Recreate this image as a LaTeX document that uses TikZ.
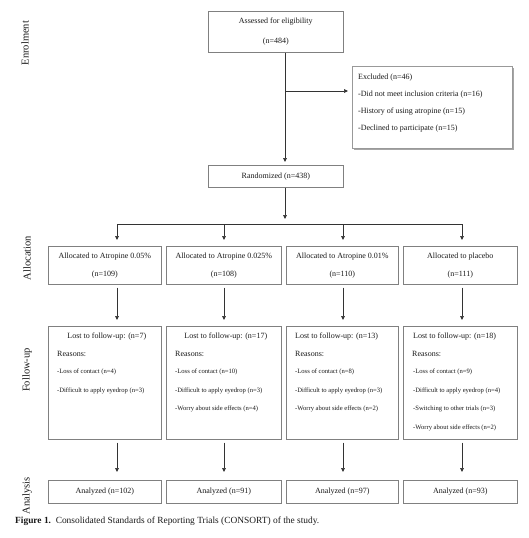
\documentclass[tikz,border=0pt]{standalone}
\usepackage{fontspec}
\setmainfont{Liberation Serif}
\usetikzlibrary{arrows.meta,positioning,calc,shadows}
\definecolor{ln}{HTML}{808080}
\definecolor{ink}{HTML}{1A1A1A}
\tikzset{
  box/.style={draw=ln,line width=0.6pt,fill=white,anchor=north west,inner sep=0pt,align=center,font=\fontsize{8}{9.6}\selectfont,text=ink},
  ebox/.style={box,draw=ln!80,drop shadow={shadow xshift=1.3pt,shadow yshift=-1.3pt,fill=black!35,opacity=1}},
  txt/.style={anchor=west,inner sep=0pt,font=\fontsize{8}{9.6}\selectfont,text=ink},
  rtxt/.style={txt,font=\fontsize{6.6}{8}\selectfont},
  lab/.style={rotate=90,inner sep=0pt,font=\fontsize{10.5}{12}\selectfont,text=ink},
  ar/.style={-{Triangle[length=4pt,width=3.8pt]},line width=0.6pt,draw=black!80},
}

\begin{document}
\begin{tikzpicture}[x=1pt,y=-1pt]
\fill[white] (0,0) rectangle (529,538);
\useasboundingbox (0,0) rectangle (529,538);

% phase labels
\node[lab] (lenr) at (25,43) {Enrolment};
\node[lab] (lall) at (27,258) {Allocation};
\node[lab] (lfol) at (27,370) {Follow-up};
\node[lab] (lana) at (27,496) {Analysis};

% enrolment
\node[box,minimum width=135pt,minimum height=41pt] (assess) at (208,11) {Assessed for eligibility\\[10.4pt](n=484)};
\node[ebox,minimum width=160pt,minimum height=82pt] (excl) at (352,66) {};
\node[txt,anchor=north west,align=left,font=\fontsize{8}{17}\selectfont] (extxt) at ($(excl.north west)+(6,7.5)$)
  {Excluded (n=46)\\-Did not meet inclusion criteria (n=16)\\-History of using atropine (n=15)\\-Declined to participate (n=15)};
\node[box,minimum width=135pt,minimum height=22pt] (rand) at (208,165) {Randomized (n=438)};

\coordinate (sp) at (285,0);
\coordinate (br) at (285,91);
\coordinate (bar) at (285,224);
\coordinate (k1) at (117,0);
\coordinate (k2) at (224,0);
\coordinate (k3) at (343,0);
\coordinate (k4) at (462,0);

% allocation
\node[box,minimum width=113pt,minimum height=38pt] (a1) at (48,246) {Allocated to Atropine 0.05\%\\[8.4pt](n=109)};
\node[box,minimum width=115pt,minimum height=38pt] (a2) at (166,246) {Allocated to Atropine 0.025\%\\[8.4pt](n=108)};
\node[box,minimum width=112pt,minimum height=38pt] (a3) at (286,246) {Allocated to Atropine 0.01\%\\[8.4pt](n=110)};
\node[box,minimum width=114pt,minimum height=38pt] (a4) at (403,246) {Allocated to placebo\\[8.4pt](n=111)};

% follow-up
\node[box,minimum width=113pt,minimum height=113pt] (f1) at (48,326) {};
\node[box,minimum width=115pt,minimum height=113pt] (f2) at (166,326) {};
\node[box,minimum width=112pt,minimum height=113pt] (f3) at (286,326) {};
\node[box,minimum width=114pt,minimum height=113pt] (f4) at (403,326) {};

\node[txt,anchor=center] (f1h) at ($(f1.north)+(2,11)$) {Lost to follow-up: (n=7)};
\node[txt,anchor=center] (f2h) at ($(f2.north)+(2,11)$) {Lost to follow-up: (n=17)};
\node[txt] (f3h) at ($(f3.north west)+(9,11)$) {Lost to follow-up: (n=13)};
\node[txt] (f4h) at ($(f4.north west)+(10,11)$) {Lost to follow-up: (n=18)};

\foreach \b in {f1,f2,f3,f4}
  \node[txt] (\b rs) at ($(\b.north west)+(9,28)$) {Reasons:};

\foreach \t [count=\i] in {-Loss of contact (n=4),-Difficult to apply eyedrop (n=3)}
  \node[rtxt] (f1r\i) at ($(f1.north west)+(9,27.5+18.5*\i)$) {\t};
\foreach \t [count=\i] in {-Loss of contact (n=10),-Difficult to apply eyedrop (n=3),-Worry about side effects (n=4)}
  \node[rtxt] (f2r\i) at ($(f2.north west)+(9,27.5+18.5*\i)$) {\t};
\foreach \t [count=\i] in {-Loss of contact (n=8),-Difficult to apply eyedrop (n=3),-Worry about side effects (n=2)}
  \node[rtxt] (f3r\i) at ($(f3.north west)+(9,27.5+18.5*\i)$) {\t};
\foreach \t [count=\i] in {-Loss of contact (n=9),-Difficult to apply eyedrop (n=4),-Switching to other trials (n=3),-Worry about side effects (n=2)}
  \node[rtxt] (f4r\i) at ($(f4.north west)+(10,27.5+18.5*\i)$) {\t};

% analysis
\node[box,minimum width=113pt,minimum height=23pt] (n1) at (48,480) {Analyzed (n=102)};
\node[box,minimum width=115pt,minimum height=23pt] (n2) at (166,480) {Analyzed (n=91)};
\node[box,minimum width=112pt,minimum height=23pt] (n3) at (286,480) {Analyzed (n=97)};
\node[box,minimum width=114pt,minimum height=23pt] (n4) at (403,480) {Analyzed (n=93)};

% connectors
\draw[ar,shorten >=3pt] (assess.south -| sp) -- (rand.north -| sp);
\draw[ar,shorten >=4pt] (br) -- (excl.west |- br);
\draw[ar,shorten >=5pt] (rand.south -| sp) -- (bar);
\draw[line width=0.6pt,draw=black!80] (k1 |- bar) -- (k4 |- bar);
\foreach \k/\a/\f/\n in {k1/a1/f1/n1,k2/a2/f2/n2,k3/a3/f3/n3,k4/a4/f4/n4}{
  \draw[ar,shorten >=6pt] (\k |- bar) -- (\a.north -| \k);
  \draw[ar,shorten <=3pt,shorten >=6pt] (\a.south -| \k) -- (\f.north -| \k);
  \draw[ar,shorten <=3pt,shorten >=8pt] (\f.south -| \k) -- (\n.north -| \k);
}

\node[txt,font=\fontsize{9.4}{11}\selectfont] (cap) at (15,521) {\textbf{Figure 1.}\ \ Consolidated Standards of Reporting Trials (CONSORT) of the study.};
\end{tikzpicture}
\end{document}
